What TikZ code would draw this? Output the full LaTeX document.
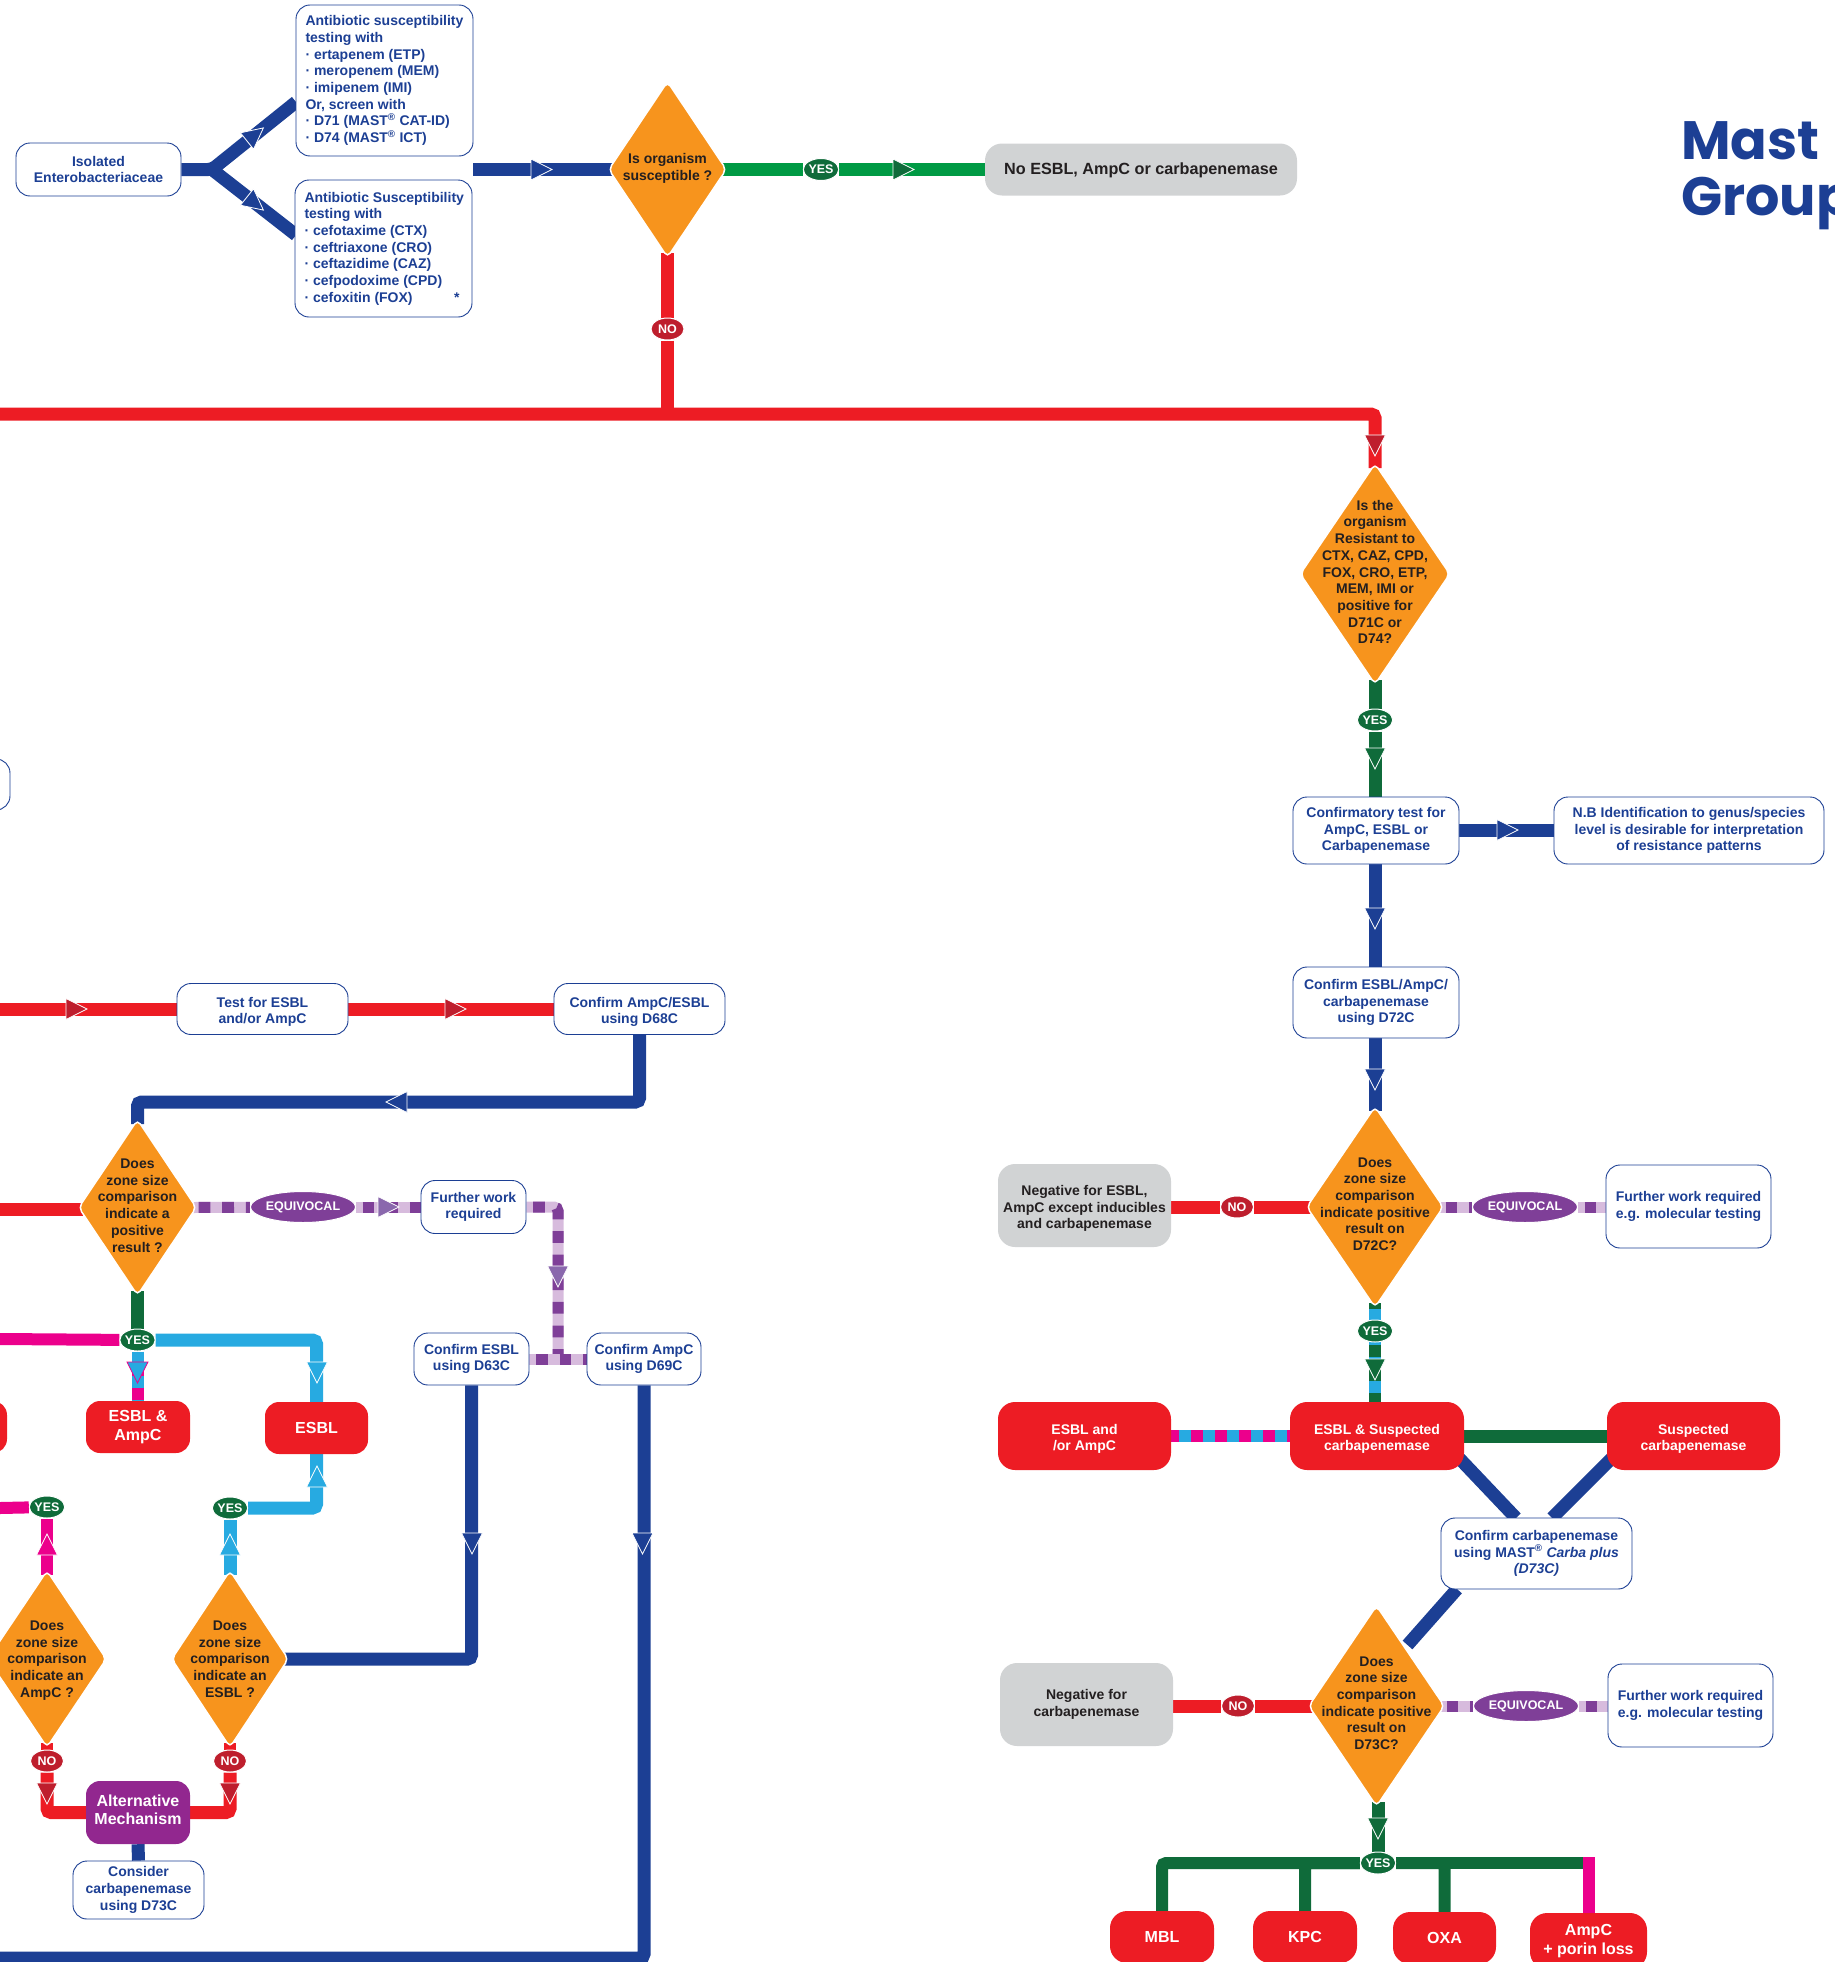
\documentclass[tikz,border=0pt]{standalone}
\usepackage{fontspec}
\setmainfont{Liberation Sans}
\newfontfamily\mastfont{Poppins}
\usetikzlibrary{shapes.geometric,backgrounds}
\definecolor{mastblue}{HTML}{1C3F94}
\definecolor{mastorange}{HTML}{F7941D}
\definecolor{mastred}{HTML}{ED1C24}
\definecolor{darkred}{HTML}{BE1E2D}
\definecolor{darkgreen}{HTML}{0F6B3A}
\definecolor{brightgreen}{HTML}{009A44}
\definecolor{mastcyan}{HTML}{27AAE1}
\definecolor{mastpink}{HTML}{EC008C}
\definecolor{mastpurple}{HTML}{7F3F98}
\definecolor{altpurple}{HTML}{92278F}
\definecolor{palepurple}{HTML}{D7BBDD}
\definecolor{tippurple}{HTML}{8A68AD}
\definecolor{mastgrey}{HTML}{D1D3D4}
\definecolor{darktext}{HTML}{231F20}
\tikzset{
	boxsize/.style 2 args={minimum width=#1, minimum height=#2},
	small/.style={font=\bfseries\fontsize{14}{16.7}\selectfont},
	big/.style={font=\bfseries\fontsize{16}{18.5}\selectfont},
	testbox/.style={rectangle, rounded corners=14, draw=mastblue, line width=0.9, fill=white, text=mastblue, small, align=center, inner sep=0},
	listbox/.style={testbox, text width=158, align=flush left},
	resultbox/.style={rectangle, rounded corners=17, fill=mastred, text=white, small, align=center, inner sep=0},
	greybox/.style={rectangle, rounded corners=17, fill=mastgrey, text=darktext, small, align=center, inner sep=0},
	question/.style={diamond, rounded corners=5, fill=mastorange, draw=white, line width=1.5, inner sep=0, outer sep=-3},
	qtext/.style={text=darktext, small, align=center, inner sep=0},
	answer/.style={ellipse, draw=white, line width=1, text=white, inner sep=0, font=\bfseries\fontsize{12.5}{14}\selectfont},
	yeslabel/.style={answer, fill=darkgreen, boxsize={34}{22}},
	nolabel/.style={answer, fill=darkred, boxsize={33}{22}},
	equivlabel/.style={answer, fill=mastpurple, boxsize={101}{31}},
	link/.style={line width=13, rounded corners=4},
	equivlink/.style={line width=11, draw=palepurple, rounded corners=4, postaction={draw=mastpurple, dash pattern=on 11.8 off 11.8, dash phase=17}},
	mixlink/.style={line width=12, draw=mastcyan, postaction={draw=mastpink, dash pattern=on 12 off 12, dash phase=#1}},
	carbalink/.style={line width=12, draw=darkgreen, postaction={draw=mastcyan, dash pattern=on 12 off 12, dash phase=18}}
}
\newcommand{\tipmark}[4]{\filldraw[fill=#1, draw=#2, line width=0.8, shift={#3}, rotate=#4] (0,-10.5) -- (21,0) -- (0,10.5) -- cycle;}
\newcommand{\textdrop}{\rule{0pt}{16pt}}
\begin{document}
\begin{tikzpicture}[x=1pt, y=-1pt]
	\path[use as bounding box, clip] (0,0) rectangle (1834,1962);

	\node[testbox, boxsize={165}{53}] (isolated) at (98.5,169.5) {Isolated\\Enterobacteriaceae};
	\node[listbox, boxsize={177}{151}] (abxone) at (384.5,80.5) {\mbox{Antibiotic susceptibility}\\testing with\\· ertapenem (ETP)\\· meropenem (MEM)\\· imipenem (IMI)\\Or, screen with\\· D71 (MAST\textsuperscript{®} CAT-ID)\\· D74 (MAST\textsuperscript{®} ICT)};
	\node[listbox, boxsize={177}{137}] (abxtwo) at (383.5,248.5) {\mbox{Antibiotic Susceptibility}\\testing with\\· cefotaxime (CTX)\\· ceftriaxone (CRO)\\· ceftazidime (CAZ)\\· cefpodoxime (CPD)\\· cefoxitin (FOX)\hfill *\hspace*{3pt}};
	\node[question, boxsize={115}{173}, label={[qtext, yshift=1]center:{Is organism\\susceptible ?}}] (qsus) at (667.5,169.5) {};
	\node[greybox, boxsize={312}{52}, font=\bfseries\fontsize{16.2}{19}\selectfont] (noesbl) at (1141,169.5) {\rule{0pt}{14pt}No ESBL, AmpC or carbapenemase};

	\node[question, boxsize={147}{218}, label={[qtext, yshift=2]center:{Is the\\organism\\Resistant to\\CTX, CAZ, CPD,\\FOX, CRO, ETP,\\MEM, IMI or\\positive for\\D71C or\\D74?}}] (qres) at (1375,574) {};
	\node[testbox, boxsize={166}{67}] (confirmatory) at (1376,830.5) {Confirmatory test for\\AmpC, ESBL or\\Carbapenemase};
	\node[testbox, boxsize={270}{67}] (nbnote) at (1689,830.5) {N.B Identification to genus/species\\level is desirable for interpretation\\of resistance patterns};
	\node[testbox, boxsize={166}{71}] (confdsc) at (1376,1002.5) {Confirm ESBL/AmpC/\\carbapenemase\\using D72C};
	\node[question, boxsize={134}{198}, label={[qtext, yshift=3]center:{Does\\zone size\\comparison\\indicate positive\\result on\\D72C?}}] (qdsc) at (1375,1207) {};
	\node[greybox, boxsize={173}{83}] (negall) at (1084.5,1205.5) {\textdrop Negative for ESBL,\\AmpC except inducibles\\and carbapenemase};
	\node[testbox, boxsize={165}{83}] (furtherdsc) at (1688.5,1206.5) {Further work required\\e.g. molecular testing};
	\node[resultbox, boxsize={173}{68}] (esblor) at (1084.5,1436) {\textdrop ESBL and\\/or AmpC};
	\node[resultbox, boxsize={174}{68}] (esblsusp) at (1377,1436) {\textdrop ESBL \& Suspected\\carbapenemase};
	\node[resultbox, boxsize={173}{68}] (suspected) at (1693.5,1436) {\textdrop Suspected\\carbapenemase};
	\node[testbox, boxsize={191}{71}] (confcarba) at (1536.5,1553.5) {Confirm carbapenemase\\using MAST\textsuperscript{®} \textit{Carba plus}\\\textit{(D73C)}};
	\node[question, boxsize={133}{198}, label={[qtext, yshift=3]center:{Does\\zone size\\comparison\\indicate positive\\result on\\D73C?}}] (qcarba) at (1376.5,1706) {};
	\node[greybox, boxsize={173}{83}] (negcarba) at (1086.5,1704.5) {Negative for\\carbapenemase};
	\node[testbox, boxsize={165}{83}] (furthercarba) at (1690.5,1705.5) {Further work required\\e.g. molecular testing};
	\node[resultbox, big, boxsize={104}{52}] (mbl) at (1162,1937) {MBL};
	\node[resultbox, big, boxsize={104}{52}] (kpc) at (1305,1937) {KPC};
	\node[resultbox, big, boxsize={103}{52}] (oxa) at (1444.5,1938) {OXA};
	\node[resultbox, big, boxsize={117}{56}] (ampcporin) at (1588.5,1941) {AmpC\\+ porin loss};

	\node[testbox, boxsize={120}{51}] (cutbox) at (-50,784.5) {};
	\node[testbox, boxsize={171}{51}] (testfor) at (262.5,1009) {\textdrop Test for ESBL\\and/or AmpC};
	\node[testbox, boxsize={171}{51}] (confdsix) at (639.5,1009) {\textdrop Confirm AmpC/ESBL\\using D68C};
	\node[question, boxsize={115}{173}, label={[qtext, yshift=2]center:{Does\\zone size\\comparison\\indicate a\\positive\\result ?}}] (qzone) at (137.5,1207.5) {};
	\node[testbox, boxsize={105}{53}] (furtherzone) at (473.5,1207) {Further work\\required};
	\node[testbox, boxsize={115}{52}] (confesbl) at (471.5,1359) {Confirm ESBL\\using D63C};
	\node[testbox, boxsize={114}{52}] (confampc) at (644,1359) {Confirm AmpC\\using D69C};
	\node[resultbox, rounded corners=14, boxsize={120}{52}] (cutred) at (-53,1427) {};
	\node[resultbox, big, rounded corners=14, boxsize={104}{52}] (esblampc) at (138,1427) {ESBL \&\\AmpC};
	\node[resultbox, big, rounded corners=14, boxsize={103}{52}] (esbl) at (316.5,1428) {ESBL};
	\node[question, boxsize={116}{174}, label={[qtext, yshift=-1.5]center:{Does\\zone size\\comparison\\indicate an\\AmpC ?}}] (qampc) at (47,1659) {};
	\node[question, boxsize={114}{174}, label={[qtext]center:{Does\\zone size\\comparison\\indicate an\\ESBL ?}}] (qesbl) at (230,1659) {};
	\node[resultbox, big, rounded corners=14, fill=altpurple, boxsize={104}{63}] (altmech) at (138,1812.5) {Alternative\\Mechanism\rule[-6pt]{0pt}{1pt}};
	\node[testbox, boxsize={131}{58}] (consider) at (138.5,1890) {Consider\\carbapenemase\\using D73C};

	\node[yeslabel] (yessus) at (821,169.5) {YES};
	\node[nolabel] (nosus) at (667.5,329) {NO};
	\node[yeslabel] (yesres) at (1375,720) {YES};
	\node[nolabel] (nodsc) at (1237,1207) {NO};
	\node[equivlabel] (eqdsc) at (1525,1207) {EQUIVOCAL};
	\node[yeslabel] (yesdsc) at (1375,1331) {YES};
	\node[nolabel] (nocarba) at (1238,1706) {NO};
	\node[equivlabel] (eqcarba) at (1526,1706) {EQUIVOCAL};
	\node[yeslabel] (yescarba) at (1378,1863) {YES};
	\node[equivlabel] (eqzone) at (303,1207) {EQUIVOCAL};
	\node[yeslabel] (yeszone) at (137.5,1340) {YES};
	\node[yeslabel] (yesampc) at (47,1507) {YES};
	\node[yeslabel] (yesesbl) at (230,1508) {YES};
	\node[nolabel] (noampc) at (47,1761) {NO};
	\node[nolabel] (noesblq) at (230,1761) {NO};

	\node[anchor=base west, text=mastblue, inner sep=0, align=left, font=\mastfont\bfseries\fontsize{54}{56}\selectfont] (mastname) at (1681,215) {Mast\\Group};

	\coordinate (fork) at (212,169.5);
	\coordinate (inone) at (296,102);
	\coordinate (intwo) at (296,235);
	\coordinate (abxout) at (473,169.5);
	\coordinate (busjoin) at (667.5,414);
	\coordinate (busleft) at (0,414);
	\coordinate (testleft) at (0,1009);
	\coordinate (zoneleft) at (0,1209);
	\coordinate (bluejog) at (137.5,1102);
	\coordinate (crossing) at (558,1359);
	\coordinate (pinkleft) at (0,1339);
	\coordinate (pinklow) at (0,1508);
	\coordinate (bottomleft) at (0,1958);
	\coordinate (carbaout) at (1457,1589);
	\coordinate (carbain) at (1407.5,1645);
	\coordinate (suspout) at (1459,1458);
	\coordinate (suspin) at (1516,1518);
	\coordinate (susptwo) at (1612,1458);
	\coordinate (suspcarba) at (1552,1518);

	\begin{scope}[on background layer]
		\draw[link, mastblue] (isolated.east) -- (fork) -- (inone);
		\draw[link, mastblue] (fork) -- (intwo);
		\draw[link, mastblue] (abxout) -- (qsus.west);
		\draw[link, brightgreen] (qsus.east) -- (yessus);
		\draw[link, brightgreen] (yessus) -- (noesbl.west);
		\draw[link, mastred] (qsus.south) -- (nosus);
		\draw[link, mastred] (nosus) -- (busjoin);
		\draw[link, mastred] (busleft) -| (qres.north);
		\draw[link, darkgreen] (qres.south) -- (yesres);
		\draw[link, darkgreen] (yesres) -- (confirmatory.north -| yesres);
		\draw[link, mastblue] (confirmatory.east) -- (nbnote.west);
		\draw[link, mastblue] (qres.south |- confirmatory.south) -- (qres.south |- confdsc.north);
		\draw[link, mastblue] (qres.south |- confdsc.south) -- (qdsc.north);
		\draw[link, mastred] (negall.east |- nodsc) -- (nodsc);
		\draw[link, mastred] (nodsc) -- (qdsc.west);
		\draw[equivlink] (qdsc.east) -- (eqdsc);
		\draw[equivlink] (eqdsc) -- (furtherdsc.west |- eqdsc);
		\draw[carbalink] (qdsc.south) -- (qdsc.south |- esblsusp.north);
		\draw[mixlink=4] (esblor.east) -- (esblsusp.west);
		\draw[link, darkgreen] (esblsusp.east) -- (suspected.west);
		\draw[link, mastblue] (suspout) -- (suspin);
		\draw[link, mastblue] (susptwo) -- (suspcarba);
		\draw[link, mastblue] (carbaout) -- (carbain);
		\draw[link, mastred] (negcarba.east |- nocarba) -- (nocarba);
		\draw[link, mastred] (nocarba) -- (qcarba.west);
		\draw[equivlink] (qcarba.east) -- (eqcarba);
		\draw[equivlink] (eqcarba) -- (furthercarba.west |- eqcarba);
		\draw[link, darkgreen] (qcarba.south -| yescarba) -- (yescarba);
		\draw[link, line width=12, darkgreen] (yescarba) -| (mbl.north);
		\draw[link, line width=12, darkgreen] (yescarba) -- (kpc.north |- yescarba) -- (kpc.north);
		\draw[link, line width=12, darkgreen] (yescarba) -- (oxa.north |- yescarba) -- (oxa.north);
		\draw[link, line width=12, darkgreen] (yescarba) -- (ampcporin.north |- yescarba);
		\draw[line width=12, mastpink] ([yshift=6]ampcporin.north |- yescarba) -- (ampcporin.north);
		\draw[link, mastred] (testleft) -- (testfor.west);
		\draw[link, mastred] (testfor.east) -- (confdsix.west);
		\draw[link, mastblue] (confdsix.south) |- (bluejog) -- (qzone.north);
		\draw[link, mastred] (zoneleft) -- (qzone.west |- zoneleft);
		\draw[equivlink] (qzone.east) -- (eqzone);
		\draw[equivlink] (eqzone) -- (furtherzone.west);
		\draw[equivlink] (furtherzone.east) -| (crossing);
		\draw[equivlink] (confesbl.east) -- (confampc.west);
		\draw[link, darkgreen] (qzone.south) -- (yeszone);
		\draw[link, line width=12, mastpink] (pinkleft) -- (yeszone);
		\draw[link, mastcyan] (yeszone) -| (esbl.north);
		\draw[mixlink=12] (yeszone) -- (yeszone |- esblampc.north);
		\draw[link, line width=12, mastpink] (qampc.north) -- (yesampc);
		\draw[link, line width=12, mastpink] (yesampc) -- (pinklow);
		\draw[link, mastcyan] (qesbl.north) -- (yesesbl);
		\draw[link, mastcyan] (yesesbl) -| (esbl.south);
		\draw[link, mastblue] (qesbl.east) -| (confesbl.south);
		\draw[link, mastblue] (confampc.south) |- (bottomleft);
		\draw[link, line width=12, mastred] (qampc.south) -- (noampc);
		\draw[link, line width=12, mastred] (qesbl.south) -- (noesblq);
		\draw[link, mastred] (noampc) |- (altmech.west);
		\draw[link, mastred] (noesblq) |- (altmech.east);
		\draw[link, mastblue] (altmech.south) -- (consider.north);

		\foreach \x/\r in {(247,141)/38.6, (247,197)/-38.6, (531,169.5)/0, (407,1102)/180, (472,1533)/-90, (642.5,1533)/-90, (1375,908)/-90, (1497,830)/0, (1375,1069)/-90}
		{\tipmark{mastblue}{white}{\x}{\r}}
		\foreach \x/\r in {(66,1009)/0, (445,1009)/0, (1375,435)/-90, (47,1783)/-90, (230,1783)/-90}
		{\tipmark{darkred}{white}{\x}{\r}}
		\foreach \x in {(1375,748), (1375,1359), (1378,1818)}
		{\tipmark{darkgreen}{white}{\x}{-90}}
		\tipmark{darkgreen}{white}{(893,169.5)}{0}
		\foreach \x/\r in {(317,1362)/-90, (317,1487)/90, (230,1555)/90}
		{\tipmark{mastcyan}{white}{\x}{\r}}
		\tipmark{mastpink}{white}{(47,1555)}{90}
		\tipmark{mastcyan}{mastpink}{(137.5,1362)}{-90}
		\foreach \x/\r in {(378,1207)/0, (558,1266)/-90}
		{\tipmark{tippurple}{white}{\x}{\r}}
	\end{scope}
\end{tikzpicture}
\end{document}
